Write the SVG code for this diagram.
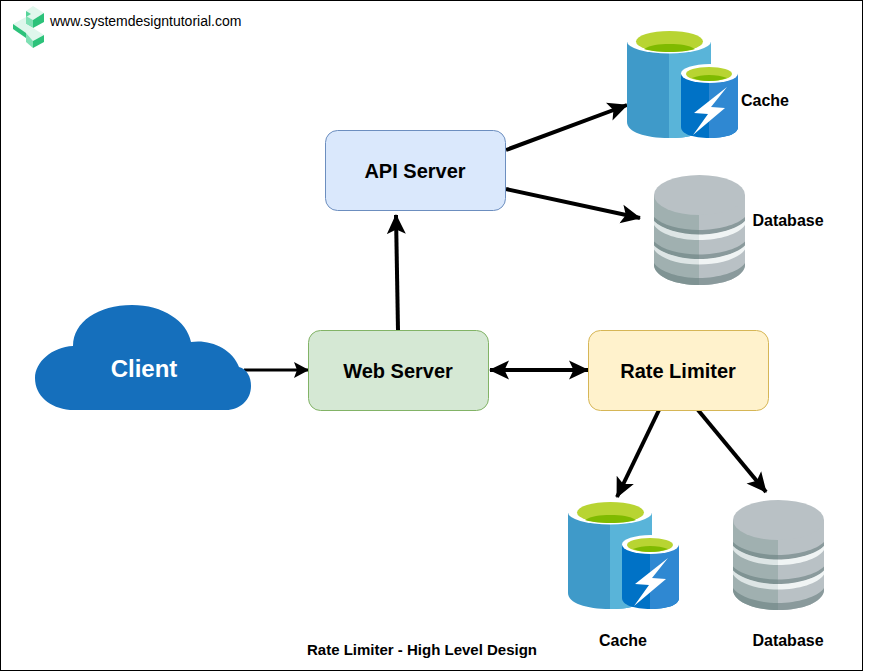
<svg xmlns="http://www.w3.org/2000/svg" width="869" height="671" viewBox="0 0 869 671">
<style>
text{font-family:"Liberation Sans",Arial,sans-serif;fill:#000}
.lbl{font-size:16px;font-weight:bold;text-anchor:middle}
.nt{font-size:20px;font-weight:bold;text-anchor:middle}
.box{stroke-width:1}
.c{fill:none;stroke:#000;stroke-width:4}
.ct{fill:none;stroke:#000;stroke-width:3}
.dl{fill:#7f9393}.dr{fill:#8a9a9c}.wl{fill:#dde5e5}.wr{fill:#f0f4f4}
</style>
<defs>
<marker id="a" markerUnits="userSpaceOnUse" markerWidth="20" markerHeight="20" refX="19" refY="10" orient="auto-start-reverse" viewBox="0 0 20 20"><path d="M0 0.500L20 10L0 19.500L4.500 10Z" fill="#000"/></marker>
<marker id="b" markerUnits="userSpaceOnUse" markerWidth="15" markerHeight="16" refX="14" refY="8" orient="auto" viewBox="0 0 15 16"><path d="M0 0L15 8L0 16L3 8Z" fill="#000"/></marker>
<g id="cache">
<path d="M627 42V122C627 132 645 138 669 138C693 138 711 132 711 122V42Z" fill="#3f9ac9"/>
<path d="M669 42V138C693 138 711 132 711 122V42Z" fill="#59b4d9"/>
<ellipse cx="669" cy="41.500" rx="42" ry="12" fill="#fff"/>
<ellipse cx="669.500" cy="41.500" rx="33.500" ry="10.500" fill="#b8d432"/>
<path d="M644 49C650 45 659 44 669.500 44C680 44 689 45 695 49C689 51 680 52 669.500 52C659 52 650 51 644 49Z" fill="#7fba00"/>
<path d="M681 73V127C681 134 693 138 709.500 138C726 138 738 134 738 127V73Z" fill="#0072c6"/>
<path d="M709 73V138C726 138 738 134 738 127V73Z" fill="#2f88d2"/>
<ellipse cx="709.500" cy="73.500" rx="28.500" ry="9.500" fill="#fff"/>
<ellipse cx="709" cy="74" rx="23" ry="7" fill="#b8d432"/>
<path d="M692 78C697 76 703 75 709 75C716 75 722 76 727 78C722 80 716 81 709 81C703 81 697 80 692 78Z" fill="#7fba00"/>
<path d="M727 87L694 113L708 114L693 135L725 108L711 107Z" fill="#fff"/>
</g>
<g id="db">
<path d="M654 195V266C656 277 675 285 699 285V195Z" fill="#a0b0b0"/>
<path d="M699 195V285C725 285 743 277 745 266V195Z" fill="#b9c1c5"/>
<ellipse cx="699.500" cy="195" rx="45.500" ry="20" fill="#b9c1c5"/>
<g id="band">
<path class="dl" d="M654 217C662 225 680 230 699 230V235C680 235 662 229 654 221Z"/>
<path class="dr" d="M745 217C737 225 718 230 699 230V235C718 235 737 229 745 221Z"/>
<path class="wl" d="M654 221C662 229 680 234.500 699 234.500V240C678 240 660 234 654 225Z"/>
<path class="wr" d="M745 221C737 229 718 234.500 699 234.500V240C720 240 739 234 745 225Z"/>
</g>
<use href="#band" transform="translate(0 24.500)"/>
<path class="dl" d="M654 263C660 272 680 278 699 278V285C675 285 656 277 654 266Z"/>
<path class="dr" d="M745 263C739 272 718 278 699 278V285C725 285 743 277 745 266Z"/>
</g>
</defs>
<rect id="frame" x="0.500" y="0.500" width="862" height="670" fill="#fff" stroke="#000" stroke-width="1"/>
<g id="logo">
<path d="M26 11L33 6L44 13L33 20L26 16Z" fill="#dff7ec"/>
<path d="M26 16L33 20V28L26 24Z" fill="#7fe0b4"/>
<path d="M33 20L44 13V22L33 28Z" fill="#2cc27a"/>
<path d="M26 11L31 14L26 17Z" fill="#57d49b"/>
<path d="M13 24L26 17V24L33 28L26 33V38Z" fill="#dff7ec"/>
<path d="M13 24L26 33V38L13 29Z" fill="#2cc27a"/>
<path d="M26 33L33 28L44 35L33 41Z" fill="#dff7ec"/>
<path d="M26 33L33 41V48L26 42Z" fill="#7fe0b4"/>
<path d="M33 41L44 35V42L33 48Z" fill="#2cc27a"/>
<text x="50" y="26" font-size="14">www.systemdesigntutorial.com</text>
</g>
<g id="connectors">
<path class="ct" d="M244 370H308" marker-end="url(#b)"/>
<path class="c" d="M398 330L396 215" marker-end="url(#a)"/>
<path class="c" d="M490 370H588" marker-start="url(#a)" marker-end="url(#a)"/>
<path class="c" d="M506 150L627 105" marker-end="url(#a)"/>
<path class="c" d="M506 189L640 218" marker-end="url(#a)"/>
<path class="c" d="M659 410L617 497" marker-end="url(#a)"/>
<path class="c" d="M698 410L766 492" marker-end="url(#a)"/>
</g>
<g id="api-server"><rect class="box" x="325.500" y="130.500" width="180" height="80" rx="12" fill="#dae8fc" stroke="#6c8ebf"/><text class="nt" x="415" y="178">API Server</text></g>
<g id="web-server"><rect class="box" x="308.500" y="330.500" width="180" height="80" rx="12" fill="#d5e8d4" stroke="#82b366"/><text class="nt" x="398" y="378">Web Server</text></g>
<g id="rate-limiter"><rect class="box" x="588.500" y="330.500" width="180" height="80" rx="12" fill="#fff2cc" stroke="#d6b656"/><text class="nt" x="678" y="378">Rate Limiter</text></g>
<g id="client">
<path d="M73 346C73 322 98 305 132 305C163 305 187 321 191 342C209 339 232 348 239 367C247 369 251 377 251 386C251 400 240 410 226 410H70C50 408 35 396 35 378C35 362 52 347 73 346Z" fill="#156fbc"/>
<text x="144" y="377" font-size="24" font-weight="bold" text-anchor="middle" style="fill:#fff">Client</text>
</g>
<g id="cache-top"><use href="#cache"/><text class="lbl" x="765" y="106">Cache</text></g>
<g id="database-top"><use href="#db"/><text class="lbl" x="788" y="226">Database</text></g>
<g id="cache-bottom"><use href="#cache" transform="translate(-59 471)"/><text class="lbl" x="623" y="646">Cache</text></g>
<g id="database-bottom"><use href="#db" transform="translate(79 325)"/><text class="lbl" x="788" y="646">Database</text></g>
<text id="title" x="422" y="655" font-size="15" font-weight="bold" text-anchor="middle">Rate Limiter - High Level Design</text>
</svg>
